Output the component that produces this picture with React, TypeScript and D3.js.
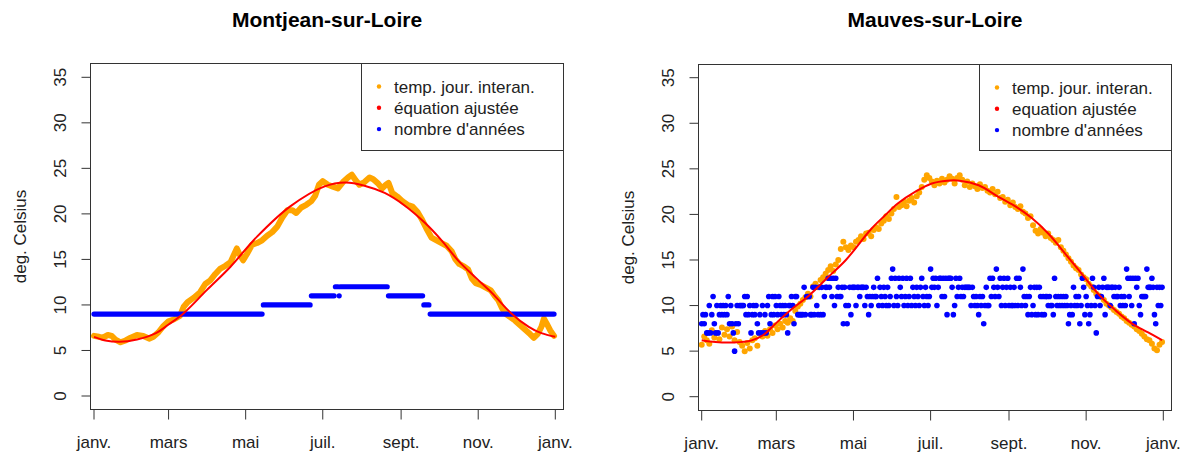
import React from 'react';
import * as d3 from 'd3';

// ---------- axis definitions ----------
const monthTickDays = [1, 60, 121, 182, 244, 305, 366];
const monthTickLabels = ['janv.', 'mars', 'mai', 'juil.', 'sept.', 'nov.', 'janv.'];
const yTicks = [0, 5, 10, 15, 20, 25, 30, 35];
const yLabel = 'deg. Celsius';

// ---------- Montjean-sur-Loire ----------
const leftTitle = 'Montjean-sur-Loire';
const leftLegend = ['temp. jour. interan.', 'équation ajustée', "nombre d'années"];
// [day of year, daily interannual temperature]
const leftTemps: [number, number][] = [
  [1, 6.6], [5, 6.5], [8, 6.4], [12, 6.7], [15, 6.6], [18, 6.2], [22, 5.9], [26, 6.1], [30, 6.4],
  [35, 6.7], [40, 6.6], [45, 6.3], [48, 6.5], [52, 7.0], [56, 7.7], [60, 8.2], [64, 8.4], [69, 8.8],
  [72, 9.8], [75, 10.3], [80, 10.8], [85, 11.4], [89, 12.3], [93, 12.7], [97, 13.4], [101, 14.0],
  [105, 14.3], [109, 14.7], [112, 15.6], [114, 16.2], [116, 15.6], [119, 14.9], [122, 15.6],
  [126, 16.6], [130, 16.8], [134, 17.1], [138, 17.6], [142, 18.0], [146, 18.6], [150, 19.6],
  [154, 20.4], [158, 20.4], [161, 20.1], [165, 20.7], [169, 21.0], [173, 21.4], [176, 22.0],
  [179, 23.2], [182, 23.6], [186, 23.2], [190, 23.0], [194, 22.8], [198, 23.5], [202, 24.0],
  [205, 24.3], [208, 23.7], [211, 23.2], [215, 23.5], [219, 24.0], [222, 23.8], [226, 23.3],
  [229, 22.8], [232, 23.2], [234, 23.4], [237, 22.3], [241, 21.9], [245, 21.4], [249, 21.0],
  [253, 20.8], [257, 20.2], [260, 19.5], [264, 18.4], [268, 17.4], [272, 17.1], [276, 16.8],
  [280, 16.5], [284, 15.9], [287, 15.0], [290, 14.5], [294, 14.2], [297, 13.9], [300, 12.9],
  [303, 12.4], [307, 12.2], [311, 11.9], [315, 11.6], [318, 11.0], [321, 10.5], [324, 9.6],
  [327, 9.0], [330, 8.7], [334, 8.3], [338, 7.8], [342, 7.3], [346, 6.8], [349, 6.4], [352, 6.8],
  [355, 7.6], [357, 8.5], [359, 8.0], [362, 7.2], [365, 6.6],
];
const leftFit: [number, number][] = [
  [1, 6.5], [10, 6.1], [21, 5.95], [35, 6.2], [50, 6.9], [60, 7.85], [72, 9.1], [90, 11.6],
  [109, 14.2], [130, 17.5], [156, 20.8], [183, 23.0], [200, 23.45], [215, 23.1], [231, 22.3],
  [247, 20.9], [263, 19.0], [276, 17.1], [289, 14.9], [303, 13.0], [316, 11.3], [331, 9.1],
  [345, 7.6], [355, 6.9], [366, 6.5],
];
// number of years: [first day, last day, count]
const leftYearRuns: [number, number, number][] = [
  [1, 134, 9], [135, 172, 10], [173, 191, 11], [192, 194, 12], [195, 195, 11],
  [196, 233, 12], [234, 261, 11], [262, 266, 10], [267, 365, 9],
];

// ---------- Mauves-sur-Loire ----------
const rightTitle = 'Mauves-sur-Loire';
const rightLegend = ['temp. jour. interan.', 'equation ajustée', "nombre d'années"];
const rightTemps: [number, number][] = [
  [1, 5.7], [3, 6.6], [5, 6.2], [7, 5.8], [9, 7.3], [11, 6.5], [13, 7.0], [15, 6.3], [17, 7.6],
  [19, 6.8], [21, 7.4], [23, 6.6], [25, 7.7], [27, 6.2], [29, 7.1], [31, 6.0], [33, 5.6], [35, 5.0],
  [37, 5.9], [39, 5.3], [41, 6.2], [43, 6.4], [45, 5.6], [47, 6.9], [49, 6.6], [51, 7.2], [53, 6.7],
  [55, 7.4], [57, 7.0], [59, 7.8], [61, 7.4], [63, 8.0], [65, 7.6], [67, 8.3], [69, 8.1], [71, 8.6],
  [73, 8.3], [75, 9.4], [77, 9.9], [79, 10.2], [81, 10.6], [83, 10.9], [85, 11.3], [87, 11.0],
  [89, 12.1], [91, 12.4], [93, 12.0], [95, 12.8], [97, 13.1], [99, 13.5], [101, 13.9], [103, 14.3],
  [105, 13.8], [107, 14.5], [109, 15.0], [111, 16.2], [113, 17.0], [115, 16.4], [117, 16.1],
  [119, 16.6], [121, 16.4], [123, 17.0], [125, 17.2], [127, 17.6], [129, 17.3], [131, 17.9],
  [133, 18.0], [135, 17.6], [137, 18.3], [139, 18.6], [141, 18.4], [143, 19.0], [145, 19.3],
  [147, 19.8], [149, 19.5], [151, 20.1], [153, 20.6], [155, 21.9], [157, 20.8], [159, 21.0],
  [161, 21.4], [163, 20.9], [165, 21.5], [167, 21.8], [169, 21.3], [171, 22.0], [173, 22.4],
  [175, 23.0], [177, 23.8], [179, 24.3], [181, 24.0], [183, 23.6], [185, 23.2], [187, 23.7],
  [189, 23.4], [191, 23.9], [193, 23.5], [195, 23.8], [197, 24.2], [199, 23.9], [201, 23.4],
  [203, 24.0], [205, 24.3], [207, 23.8], [209, 23.2], [211, 23.6], [213, 23.0], [215, 23.4],
  [217, 23.1], [219, 22.8], [221, 23.3], [223, 22.9], [225, 23.0], [227, 22.6], [229, 22.4],
  [231, 22.8], [233, 22.2], [235, 22.5], [237, 21.8], [239, 21.9], [241, 21.4], [243, 21.6],
  [245, 21.0], [247, 21.3], [249, 20.8], [251, 20.6], [253, 20.9], [255, 20.3], [257, 20.1],
  [259, 19.6], [261, 19.8], [263, 18.8], [265, 18.2], [267, 17.9], [269, 18.4], [271, 18.0],
  [273, 17.6], [275, 17.9], [277, 17.4], [279, 17.2], [281, 16.9], [283, 17.2], [285, 16.4],
  [287, 16.0], [289, 15.6], [291, 15.2], [293, 14.8], [295, 14.4], [297, 14.1], [299, 13.9],
  [301, 13.4], [303, 13.1], [305, 12.9], [307, 12.4], [309, 12.1], [311, 11.7], [313, 11.3],
  [315, 11.1], [317, 10.9], [319, 10.6], [321, 10.2], [323, 10.0], [325, 9.8], [327, 9.5],
  [329, 9.3], [331, 9.1], [333, 8.8], [335, 8.6], [337, 8.3], [339, 8.1], [341, 7.9], [343, 7.7],
  [345, 7.4], [347, 7.2], [349, 6.9], [351, 6.6], [353, 6.3], [355, 6.2], [357, 5.8], [359, 5.3],
  [361, 5.1], [363, 5.7], [365, 6.0],
];
const rightFit: [number, number][] = [
  [1, 6.2], [12, 6.0], [25, 5.95], [40, 6.15], [50, 6.8], [60, 8.1], [73, 9.7], [85, 11.0],
  [100, 13.0], [115, 15.0], [135, 18.4], [146, 19.9], [156, 21.2], [170, 22.5], [183, 23.4],
  [195, 23.7], [205, 23.7], [220, 23.2], [236, 21.9], [250, 20.8], [262, 19.6], [275, 17.9],
  [289, 15.6], [302, 13.4], [315, 11.2], [328, 9.5], [341, 8.05], [354, 7.05], [365, 6.2],
];
// number of years, one value per day of year (1..365)
const rightYears: number[] = [
  8, 9, 8, 9, 7, 7, 10, 7, 9, 11,
  8, 7, 10, 7, 9, 10, 9, 10, 9, 10,
  9, 11, 8, 10, 8, 7, 5, 8, 10, 8,
  10, 10, 10, 10, 11, 9, 11, 9, 10, 7,
  9, 10, 9, 10, 8, 7, 9, 7, 10, 7,
  9, 7, 10, 11, 8, 9, 11, 9, 11, 10,
  9, 11, 10, 9, 10, 9, 10, 9, 7, 10,
  10, 11, 10, 8, 11, 11, 9, 9, 9, 9,
  9, 12, 9, 11, 11, 11, 9, 9, 12, 9,
  12, 10, 9, 12, 9, 12, 9, 11, 12, 12,
  13, 12, 13, 11, 13, 10, 13, 11, 12, 11,
  11, 12, 8, 12, 10, 8, 10, 12, 9, 12,
  12, 12, 10, 12, 12, 11, 12, 12, 12, 10,
  12, 11, 9, 11, 10, 11, 12, 11, 11, 13,
  10, 12, 11, 10, 12, 11, 10, 12, 10, 11,
  13, 14, 10, 13, 11, 10, 13, 12, 11, 13,
  10, 11, 13, 10, 11, 13, 10, 12, 11, 10,
  12, 11, 10, 12, 13, 11, 10, 12, 11, 10,
  11, 14, 12, 13, 12, 13, 10, 12, 13, 13,
  11, 13, 11, 13, 9, 13, 13, 13, 12, 9,
  10, 13, 11, 12, 13, 11, 12, 11, 12, 12,
  12, 12, 12, 10, 12, 11, 10, 11, 10, 9,
  11, 10, 11, 8, 10, 12, 10, 10, 13, 11,
  13, 12, 11, 14, 12, 11, 13, 10, 12, 13,
  10, 12, 13, 10, 12, 10, 10, 12, 10, 13,
  10, 13, 12, 10, 14, 11, 10, 11, 9, 11,
  12, 9, 10, 12, 9, 12, 9, 12, 11, 9,
  11, 9, 11, 11, 10, 11, 10, 10, 9, 13,
  11, 10, 11, 10, 11, 10, 11, 10, 11, 10,
  8, 9, 10, 9, 12, 10, 11, 10, 11, 8,
  10, 13, 12, 9, 11, 10, 8, 9, 10, 13,
  12, 10, 7, 11, 12, 10, 11, 12, 13, 9,
  12, 12, 12, 10, 12, 12, 11, 12, 11, 11,
  12, 10, 11, 10, 11, 10, 14, 13, 11, 13,
  10, 13, 8, 13, 12, 13, 10, 9, 11, 11,
  11, 11, 14, 12, 12, 12, 13, 12, 9, 8,
  12, 10, 12, 10, 12,
];

const ORANGE = '#FFA500';
const RED = '#FF0000';
const BLUE = '#0000FF';
const FONT = '"Liberation Sans", Arial, sans-serif';

type Geo = {
  x0: number; x1: number; y0: number; y35: number;
  l: number; r: number; t: number; b: number;
  legL: number; legB: number;
};

function Panel({ geo, title, legend, children }: {
  geo: Geo; title: string; legend: string[];
  children: (x: d3.ScaleLinear<number, number>, y: d3.ScaleLinear<number, number>) => React.ReactNode;
}) {
  const x = d3.scaleLinear().domain([1, 366]).range([geo.x0, geo.x1]);
  const y = d3.scaleLinear().domain([0, 35]).range([geo.y0, geo.y35]);
  const cx = (geo.l + geo.r) / 2;
  const cy = (geo.t + geo.b) / 2;
  const legColors = [ORANGE, RED, BLUE];
  return (
    <g>
      <text x={cx} y={27} textAnchor="middle" fontWeight="bold" fontSize={21} fontFamily={FONT} fill="#000">{title}</text>
      <defs>
        <clipPath id={'clip' + Math.round(geo.l)}>
          <rect x={geo.l} y={geo.t} width={geo.r - geo.l} height={geo.b - geo.t} />
        </clipPath>
      </defs>
      <g clipPath={`url(#clip${Math.round(geo.l)})`}>{children(x, y)}</g>
      <rect x={geo.l} y={geo.t} width={geo.r - geo.l} height={geo.b - geo.t} fill="none" stroke="#333" strokeWidth={1} />
      {/* y axis */}
      {yTicks.map((t) => (
        <g key={'y' + t}>
          <line x1={geo.l - 9} x2={geo.l} y1={y(t)} y2={y(t)} stroke="#333" />
          <text transform={`translate(${geo.l - 25},${y(t)}) rotate(-90)`} textAnchor="middle" fontSize={17} fontFamily={FONT} fill="#222">{t}</text>
        </g>
      ))}
      <text transform={`translate(${geo.l - 65},${cy}) rotate(-90)`} textAnchor="middle" fontSize={17} fontFamily={FONT} fill="#222">{yLabel}</text>
      {/* x axis */}
      {monthTickDays.map((d, i) => (
        <g key={'x' + i}>
          <line x1={x(d)} x2={x(d)} y1={geo.b} y2={geo.b + 10} stroke="#333" />
          <text x={x(d)} y={geo.b + 38.5} textAnchor="middle" fontSize={17} fontFamily={FONT} fill="#222">{monthTickLabels[i]}</text>
        </g>
      ))}
      {/* legend */}
      <rect x={geo.legL} y={geo.t} width={geo.r - geo.legL} height={geo.legB - geo.t} fill="#fff" stroke="#333" />
      {legend.map((s, i) => (
        <g key={'l' + i}>
          <circle cx={geo.legL + 17.5} cy={geo.t + 23 + i * 21.3} r={2.2} fill={legColors[i]} />
          <text x={geo.legL + 32.5} y={geo.t + 29.2 + i * 21.3} fontSize={17} fontFamily={FONT} fill="#222">{s}</text>
        </g>
      ))}
    </g>
  );
}

export default function App() {
  const leftGeo: Geo = { x0: 94, x1: 555.3, y0: 396, y35: 77.3, l: 90.5, r: 563.5, t: 63.5, b: 409.5, legL: 361.5, legB: 150.5 };
  const rightGeo: Geo = { x0: 701.7, x1: 1163.3, y0: 396.7, y35: 77.7, l: 698.5, r: 1171.5, t: 64.5, b: 410.5, legL: 979.5, legB: 150.5 };

  return (
    <svg width={1182} height={454} style={{ position: 'absolute', left: 0, top: 0, background: '#fff' }}>
      <rect width={1182} height={454} fill="#fff" />
      <Panel geo={leftGeo} title={leftTitle} legend={leftLegend}>
        {(x, y) => {
          const line = d3.line<[number, number]>().x((d) => x(d[0])).y((d) => y(d[1]));
          const smooth = d3.line<[number, number]>().x((d) => x(d[0])).y((d) => y(d[1])).curve(d3.curveCatmullRom.alpha(0.5));
          return (
            <g>
              <path d={line(leftTemps) || ''} fill="none" stroke={ORANGE} strokeWidth={6} strokeLinejoin="round" strokeLinecap="round" />
              {leftYearRuns.map((r, i) => (
                <line key={i} x1={x(r[0])} x2={x(r[1])} y1={y(r[2])} y2={y(r[2])} stroke={BLUE} strokeWidth={5.2} strokeLinecap="round" />
              ))}
              <path d={smooth(leftFit) || ''} fill="none" stroke={RED} strokeWidth={2} />
            </g>
          );
        }}
      </Panel>
      <Panel geo={rightGeo} title={rightTitle} legend={rightLegend}>
        {(x, y) => {
          const smooth = d3.line<[number, number]>().x((d) => x(d[0])).y((d) => y(d[1])).curve(d3.curveCatmullRom.alpha(0.5));
          return (
            <g>
              {rightTemps.map((d, i) => (
                <circle key={'o' + i} cx={x(d[0])} cy={y(d[1])} r={3} fill={ORANGE} />
              ))}
              {rightYears.map((v, i) => (
                <circle key={'b' + i} cx={x(i + 1)} cy={y(v)} r={2.8} fill={BLUE} />
              ))}
              <path d={smooth(rightFit) || ''} fill="none" stroke={RED} strokeWidth={2} />
            </g>
          );
        }}
      </Panel>
    </svg>
  );
}
